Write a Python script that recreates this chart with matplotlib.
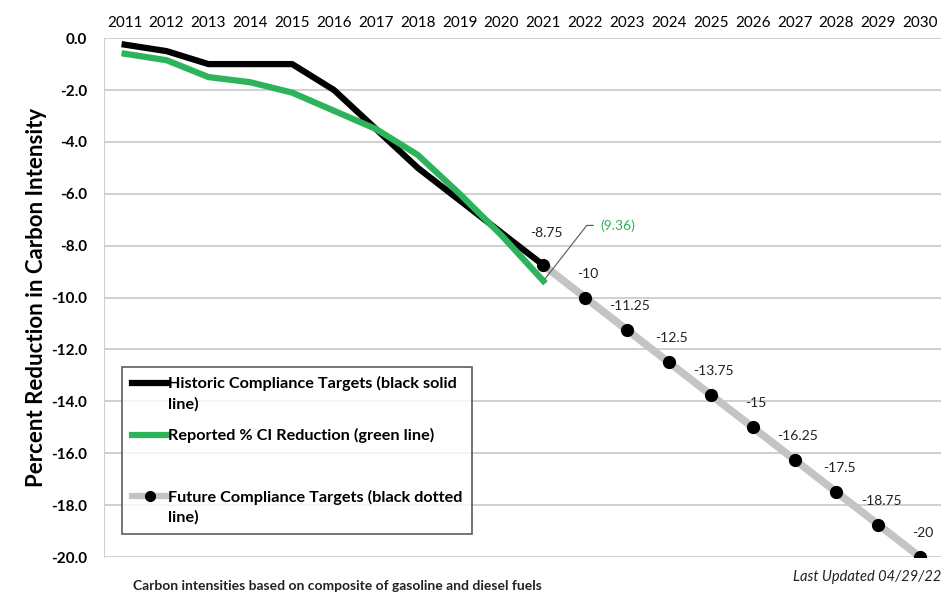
import matplotlib
matplotlib.use('Agg')
import matplotlib.pyplot as plt
from matplotlib.lines import Line2D
import numpy as np

plt.rcParams['font.family'] = ['Lato', 'DejaVu Sans']

years = list(range(2011, 2031))
hist_years = list(range(2011, 2022))
historic = [-0.25, -0.5, -1.0, -1.0, -1.0, -2.0, -3.5, -5.0, -6.25, -7.5, -8.75]
reported = [-0.6, -0.85, -1.5, -1.7, -2.1, -2.8, -3.5, -4.5, -6.0, -7.6, -9.36]
future_years = list(range(2021, 2031))
future = [-8.75, -10, -11.25, -12.5, -13.75, -15, -16.25, -17.5, -18.75, -20]
future_labels = ['-8.75', '-10', '-11.25', '-12.5', '-13.75', '-15', '-16.25', '-17.5', '-18.75', '-20']
yticks = [0, -2, -4, -6, -8, -10, -12, -14, -16, -18, -20]

green = '#2db35a'
grey = '#c4c4c4'

fig = plt.figure(figsize=(9.43, 5.96), dpi=100)
ax = fig.add_axes([0.110, 0.0654, 0.888, 0.8706])

ax.plot(future_years, future, color=grey, linewidth=5.5, zorder=2, solid_capstyle='butt')
ax.plot(future_years, future, linestyle='none', marker='o', markersize=8.5,
        color='black', zorder=4)
ax.plot(hist_years, historic, color='black', linewidth=4.5, zorder=3)
ax.plot(hist_years, reported, color=green, linewidth=4.5, zorder=3)

for x, y, lab in zip(future_years, future, future_labels):
    ax.annotate(lab, (x, y), xytext=(2, 13 if lab != '-8.75' else 19),
                textcoords='offset points', ha='center', va='bottom',
                fontsize=10, color='#222222')

ax.annotate('(9.36)', (hist_years[-1], reported[-1]), xytext=(41, 40),
            textcoords='offset points', ha='left', va='center',
            fontsize=10, color=green,
            arrowprops=dict(arrowstyle='-', color='#555555', lw=0.8,
                            relpos=(0, 0.5), shrinkA=3, shrinkB=2,
                            connectionstyle='angle,angleA=0,angleB=52,rad=0'))

ax.set_xlim(2010.5, 2030.5)
ax.set_ylim(-20, 0)
ax.set_xticks(years)
ax.set_xticklabels([str(y) for y in years])
ax.xaxis.tick_top()
ax.set_yticks(yticks)
ax.set_yticklabels(['%.1f' % v for v in yticks], fontweight='bold')
ax.tick_params(axis='x', length=0, labelsize=11, pad=6)
ax.tick_params(axis='y', length=0, labelsize=11, pad=12)
ax.grid(axis='y', color='#c8c8c8', linewidth=1.2)
ax.set_axisbelow(True)
for s in ['top', 'right', 'bottom']:
    ax.spines[s].set_visible(False)
ax.spines['left'].set_color('#d0d0d0')
ax.set_ylabel('Percent Reduction in Carbon Intensity', fontsize=16,
              fontweight='bold', labelpad=3)

handles = [Line2D([], [], color='black', linewidth=4.5),
           Line2D([], [], color=green, linewidth=4.5),
           Line2D([], [], color='none'),
           Line2D([], [], color=grey, linewidth=4.5, marker='o',
                  markersize=7, markerfacecolor='black', markeredgecolor='black',
                  markevery=[1])]
labels = ['Historic Compliance Targets (black solid\nline)',
          'Reported % CI Reduction (green line)',
          '',
          'Future Compliance Targets (black dotted\nline)']
leg = ax.legend(handles, labels, loc='lower left', bbox_to_anchor=(0.022, 0.044),
                frameon=True, fancybox=False, edgecolor='#333333',
                prop={'weight': 'bold', 'size': 11.7}, handlelength=2.2,
                handletextpad=0.0, labelspacing=1.05, borderpad=0.6,
                borderaxespad=0)
leg.get_frame().set_linewidth(1.2)
for t in leg.get_texts():
    t.set_linespacing(1.45)
leg.get_texts()[2].set_fontsize(6)
# put the handle of two-line entries on the first line
for h, lab in zip(leg.legend_handles, labels):
    if '\n' in lab:
        h.set_ydata(np.asarray(h.get_ydata()) + 7.5)

fig.text(0.141, 0.016, 'Carbon intensities based on composite of gasoline and diesel fuels',
         fontsize=10, fontweight='bold', ha='left', va='center', color='#222222')
fig.text(0.998, 0.032, 'Last Updated 04/29/22', fontsize=10.5, style='italic',
         ha='right', va='center', color='#222222')

plt.savefig('out.png', dpi=100)
